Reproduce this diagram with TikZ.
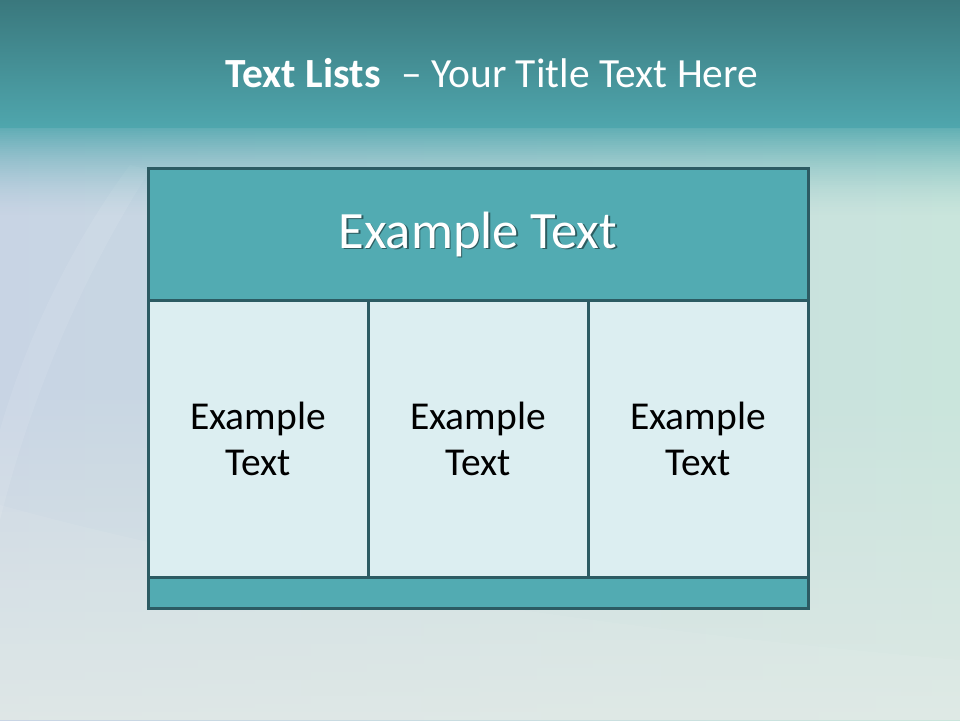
\documentclass[tikz,border=0pt]{standalone}
\usepackage{fontspec}
\setmainfont{Carlito}
\definecolor{bgL}{HTML}{C8D4E4}
\definecolor{bgR}{HTML}{C9E5DC}
\definecolor{bgBot}{HTML}{E0E9E6}
\definecolor{bandTop}{HTML}{3A787D}
\definecolor{bandBot}{HTML}{4FA6AD}
\definecolor{edge}{HTML}{2C5B63}
\definecolor{headfill}{HTML}{52ABB2}
\definecolor{cellfill}{HTML}{DCEEF1}
\begin{document}
\begin{tikzpicture}[x=1pt,y=-1pt,
  panel/.style={draw=edge, line width=3pt, inner sep=0pt, outer sep=0pt},
  headbox/.style={panel, fill=headfill, minimum width=660pt, minimum height=132pt},
  cellbox/.style={panel, fill=cellfill, minimum width=220pt, minimum height=277pt,
     align=center, font=\fontsize{39.5}{46}\selectfont, text=black},
  footbox/.style={panel, fill=headfill, minimum width=660pt, minimum height=31pt},
  headtext/.style={font=\fontsize{52.5}{60}\selectfont, anchor=base, inner sep=0pt},
  titletext/.style={font=\fontsize{41.5}{50}\selectfont, text=white, anchor=base, inner sep=0pt}]
% background
\useasboundingbox (0,0) rectangle (960,720);
\fill[left color=bgL, right color=bgR] (0,0) rectangle (960,720);
\foreach \i in {0,...,84} {
  \fill[bgBot, opacity={0.85*\i/84}] (0,380+4*\i) rectangle (960,384+4*\i);
}
% faint swooshes
\fill[white, opacity=0.09] (130,165) .. controls (60,260) and (20,360) .. (0,430) -- (0,520) .. controls (30,400) and (80,280) .. (150,170) -- cycle;
\fill[white, opacity=0.07] (0,505) .. controls (200,560) and (500,620) .. (960,660) -- (960,720) -- (0,720) -- cycle;
% top band
\fill[top color=bandTop, bottom color=bandBot] (0,0) rectangle (960,127);
\foreach \i in {0,...,44} {
  \pgfmathsetmacro{\op}{0.85*(1-\i/45)^1.6}
  \fill[bandBot, opacity=\op] (0,127+2*\i) rectangle (960,129+2*\i);
}
% title
\node[titletext] (title) at (492,87) {\textbf{Text Lists}\hspace{0.5em}– Your Title Text Here};
% table
\node[headbox] (hdr) at (478,234) {};
\node[cellbox] (c1) at (258,438.5) {Example\\Text};
\node[cellbox] (c2) at (478,438.5) {Example\\Text};
\node[cellbox] (c3) at (698,438.5) {Example\\Text};
\node[footbox] (ftr) at (478,592.5) {};
\node[headtext, text=black, opacity=0.45] (hshadow) at (479.6,249.6) {Example Text};
\node[headtext, text=white] (htext) at (hdr.center |- 0,248) {Example Text};
\end{tikzpicture}
\end{document}
